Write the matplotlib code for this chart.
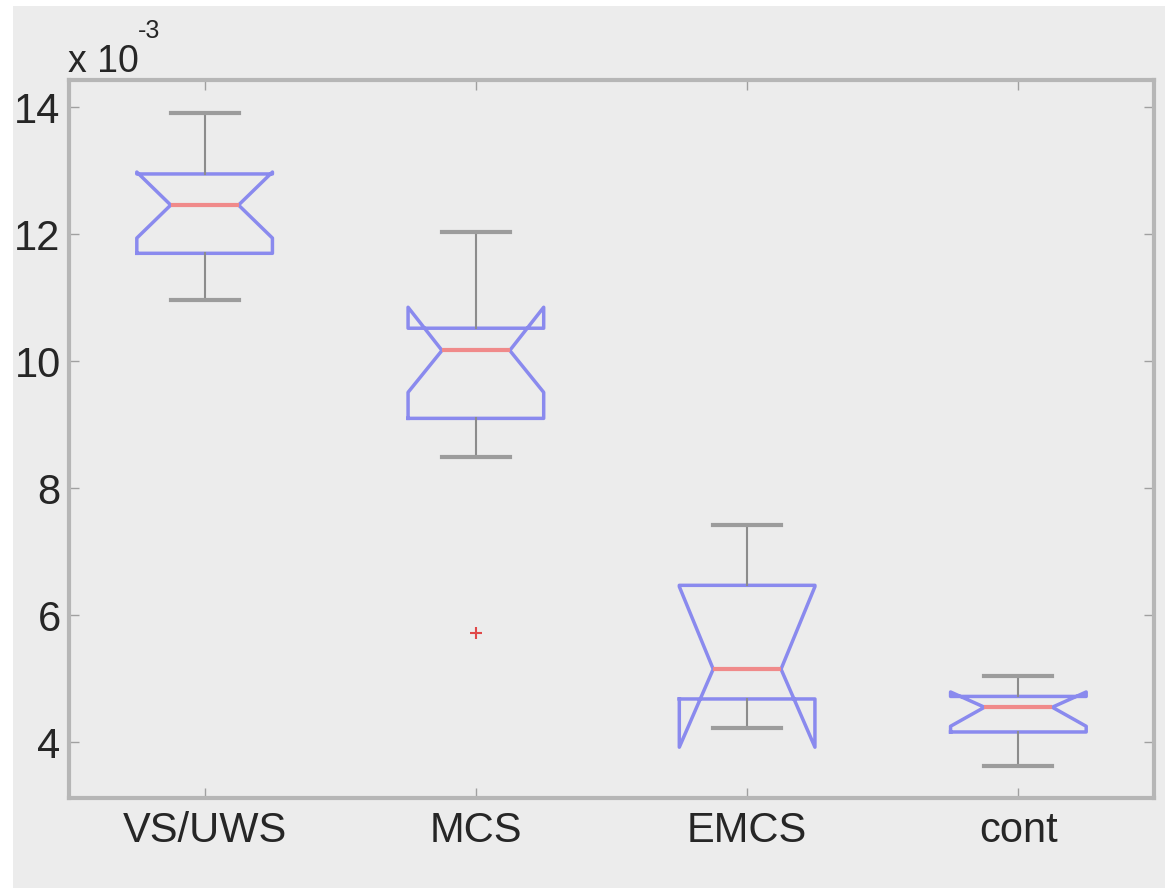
import matplotlib
matplotlib.use("Agg")
import matplotlib.pyplot as plt
from matplotlib.patches import Rectangle

# values in units of 1e-3
groups = ['VS/UWS', 'MCS', 'EMCS', 'cont']
whislo = [10.96, 8.49, 4.22, 3.62]
q1 = [11.70, 9.10, 4.68, 4.16]
cilo = [11.94, 9.51, 3.92, 4.25]
med = [12.46, 10.17, 5.15, 4.55]
cihi = [12.98, 10.85, 6.45, 4.79]
q3 = [12.95, 10.52, 6.47, 4.72]
whishi = [13.91, 12.03, 7.42, 5.04]
outliers = [[], [5.72], [], []]
yticks = [4, 6, 8, 10, 12, 14]

plt.rcParams['font.family'] = ['Liberation Sans Narrow', 'Liberation Sans', 'DejaVu Sans']

bg = '#ececec'
fig = plt.figure(figsize=(11.65, 8.88), dpi=100, facecolor=bg)
# white strips at the top and left edges of the original screenshot
fig.patches.append(Rectangle((0, 0), 13 / 1165, 1, transform=fig.transFigure,
                             facecolor='white', edgecolor='none', zorder=-1))
fig.patches.append(Rectangle((0, 1 - 6 / 888), 1, 6 / 888, transform=fig.transFigure,
                             facecolor='white', edgecolor='none', zorder=-1))

ax = fig.add_axes([69 / 1165, 90 / 888, 1085 / 1165, 718 / 888])
ax.set_facecolor(bg)

stats = []
for i, name in enumerate(groups):
    stats.append(dict(label=name, whislo=whislo[i], q1=q1[i], cilo=cilo[i],
                      med=med[i], cihi=cihi[i], q3=q3[i], whishi=whishi[i],
                      fliers=outliers[i]))

ax.bxp(stats, positions=[1, 2, 3, 4], widths=0.5, shownotches=True,
       boxprops=dict(color='#8a8aee', linewidth=2.5),
       medianprops=dict(color='#f08a8a', linewidth=3),
       whiskerprops=dict(color='#8c8c8c', linewidth=1.5),
       capprops=dict(color='#9c9c9c', linewidth=3),
       flierprops=dict(marker='+', markeredgecolor='#e04848', markersize=9,
                       markeredgewidth=1.5, linestyle='none'))

ax.set_xlim(0.5, 4.5)
ax.set_ylim(3.12, 14.43)
ax.set_yticks(yticks)
ax.set_yticklabels([str(t) for t in yticks])

for side in ['left', 'right', 'top', 'bottom']:
    ax.spines[side].set_color('#b6b6b6')
    ax.spines[side].set_linewidth(3)

ax.tick_params(direction='in', top=True, right=True, length=7, width=1,
               color='#a0a0a0', labelsize=30, labelcolor='#262626')
ax.tick_params(axis='y', pad=6)
ax.tick_params(axis='x', pad=9)

fig.text(68 / 1165, 1 - 72 / 888, 'x 10', fontsize=27, color='#262626',
         ha='left', va='baseline')
fig.text(138 / 1165, 1 - 38 / 888, '-3', fontsize=18, color='#262626',
         ha='left', va='baseline')

fig.savefig('out.png', dpi=100, facecolor=fig.get_facecolor())
